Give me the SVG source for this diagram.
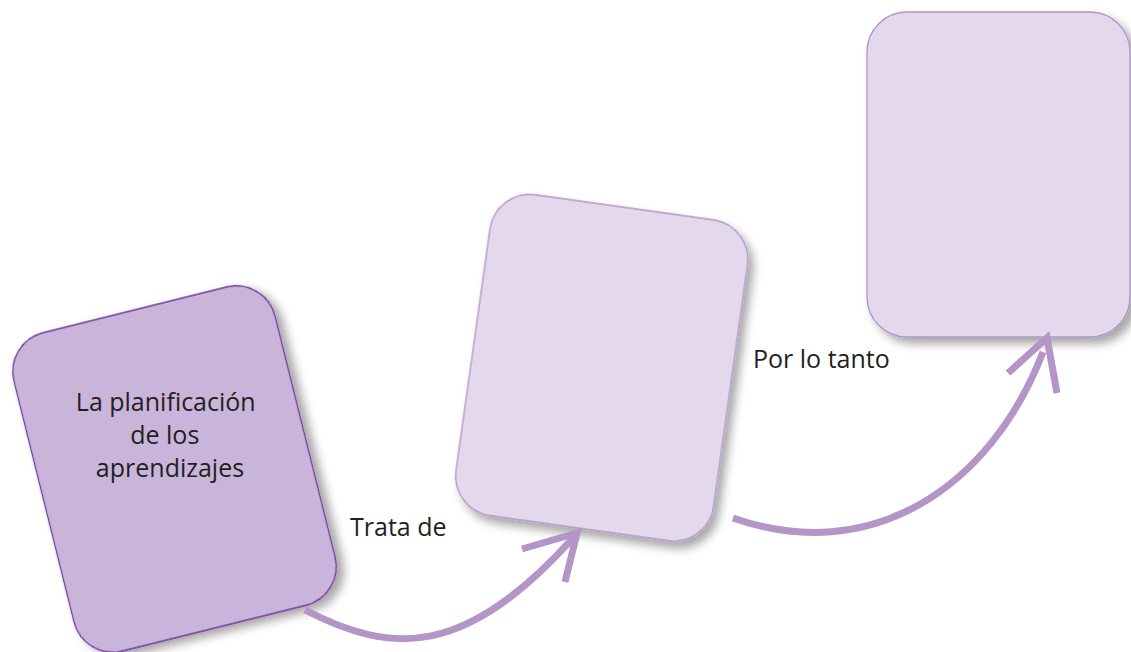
<svg xmlns="http://www.w3.org/2000/svg" width="1131" height="652" viewBox="0 0 1131 652">
  <defs>
    <filter id="shadow" x="-20%" y="-20%" width="140%" height="140%">
      <feDropShadow dx="6" dy="6" stdDeviation="5" flood-color="#000" flood-opacity="0.35"/>
    </filter>
  </defs>
  <style>
    .main { fill: #C9B5D9; stroke: #7030A0; stroke-width: 1.3; }
    .sub { fill: #E4D8EC; stroke: #B094C7; stroke-width: 1.3; }
    .lbl { font-family: "Open Sans", "Noto Sans", sans-serif; font-size: 25px; fill: #231F20; }
    .conn { fill: none; stroke: #B395C7; stroke-width: 7; }
  </style>
  <rect width="1131" height="652" fill="#FFFFFF"/>
  <g id="node-planificacion">
    <rect class="main" filter="url(#shadow)" transform="translate(174.5,469) rotate(-14)" x="-134.5" y="-164" width="269" height="328" rx="40" ry="40"/>
    <text class="lbl" text-anchor="middle">
      <tspan x="169" y="411">La planificación</tspan>
      <tspan x="168" y="444">de los</tspan>
      <tspan x="170" y="477">aprendizajes</tspan>
    </text>
  </g>
  <g id="node-trata">
    <rect class="sub" filter="url(#shadow)" transform="translate(601.75,367.75) rotate(8)" x="-130" y="-162" width="260" height="324" rx="40" ry="40"/>
  </g>
  <g id="node-portanto">
    <rect class="sub" filter="url(#shadow)" x="867" y="12" width="263" height="325" rx="40" ry="40"/>
  </g>
  <g id="connectors">
    <path class="conn" d="M305,610 C392,655 465,658 573,538"/>
    <polyline class="conn" points="522,549 577,533 565,582" stroke-linejoin="miter" stroke-miterlimit="10"/>
    <text class="lbl" x="350" y="536">Trata de</text>
    <path class="conn" d="M733,518 C869,566 990,490 1043,352"/>
    <polyline class="conn" points="1008,373 1047,338 1057,393" stroke-linejoin="miter" stroke-miterlimit="10"/>
    <text class="lbl" x="753" y="368">Por lo tanto</text>
  </g>
</svg>
